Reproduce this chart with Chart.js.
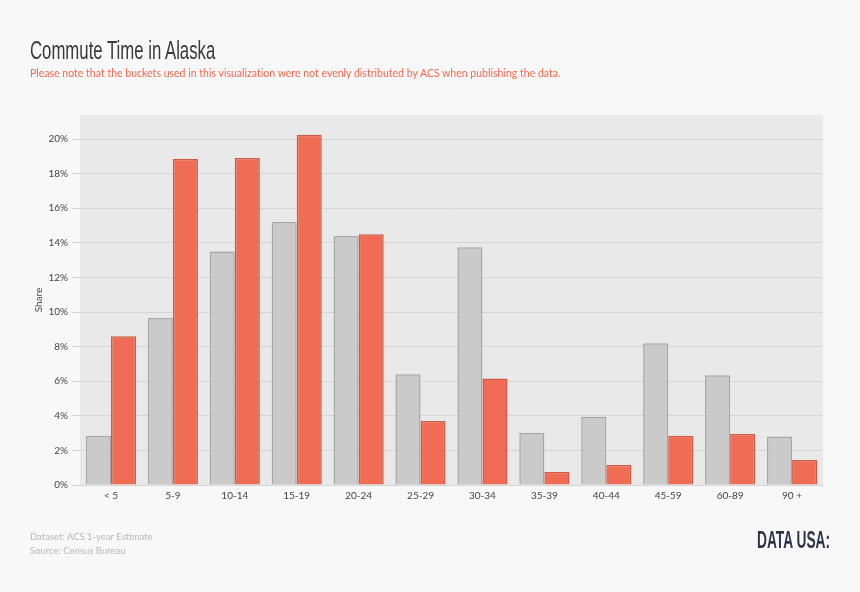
<!DOCTYPE html>
<html>
<head>
<meta charset="utf-8">
<script src="https://cdn.jsdelivr.net/npm/chart.js@4"></script>
<style>
  html, body { margin: 0; padding: 0; background: #f8f8f8; }
  body { width: 860px; height: 592px; position: relative; overflow: hidden; font-family: Lato, sans-serif; }
  canvas { position: absolute; left: 0; top: 0; }
  .txt { position: absolute; white-space: nowrap; transform-origin: left top; }
  #title { left: 30px; top: 36px; font: 25px/28px "Liberation Sans", sans-serif; color: #3a3a3c; transform: scaleX(0.67); }
  #note { left: 30px; top: 66px; font-size: 10.5px; line-height: 14px; color: #f4694f; letter-spacing: 0.01px; }
  #dataset { left: 30px; top: 530px; font-size: 9.5px; line-height: 14px; color: #b8b8b8; }
  #source { left: 30px; top: 544px; font-size: 9.5px; line-height: 14px; color: #b8b8b8; }
  #logo { left: 757px; top: 526px; font: bold 23.5px/28px "Liberation Sans", sans-serif; color: #2f3649; transform: scaleX(0.585); }
</style>
</head>
<body>
<canvas id="commuteChart" width="860" height="592"></canvas>
<div class="txt" id="title">Commute Time in Alaska</div>
<div class="txt" id="note">Please note that the buckets used in this visualization were not evenly distributed by ACS when publishing the data.</div>
<div class="txt" id="dataset">Dataset: ACS 1-year Estimate</div>
<div class="txt" id="source">Source: Census Bureau</div>
<div class="txt" id="logo">DATA USA:</div>
<script>
// Commute time buckets (minutes) and share of commuters
const buckets = ['< 5', '5-9', '10-14', '15-19', '20-24', '25-29', '30-34', '35-39', '40-44', '45-59', '60-89', '90 +'];
const greyShare = [2.85, 9.65, 13.5, 15.2, 14.4, 6.4, 13.75, 3.0, 3.95, 8.2, 6.35, 2.8];
const redShare = [8.6, 18.85, 18.9, 20.25, 14.5, 3.7, 6.15, 0.75, 1.15, 2.85, 2.95, 1.45];
const yTicks = [0, 2, 4, 6, 8, 10, 12, 14, 16, 18, 20];

// grey panel behind the bars
const plotBg = {
  id: 'plotBg',
  beforeDraw(chart) {
    const a = chart.chartArea;
    chart.ctx.fillStyle = '#e9e9e9';
    chart.ctx.fillRect(a.left, a.top, a.right - a.left, a.bottom - a.top);
  }
};

new Chart(document.getElementById('commuteChart'), {
  type: 'bar',
  data: {
    labels: buckets,
    datasets: [
      {
        label: 'Alaska commuters A',
        data: greyShare,
        backgroundColor: 'rgba(198,198,200,0.9)',
        borderColor: '#a6a6a8',
        borderWidth: 1.5
      },
      {
        label: 'Alaska commuters B',
        data: redShare,
        backgroundColor: 'rgba(241,101,76,0.95)',
        borderColor: '#cf5a46',
        borderWidth: 1.5
      }
    ]
  },
  options: {
    responsive: false,
    animation: false,
    devicePixelRatio: 1,
    layout: { padding: { top: 115, right: 37, left: 0, bottom: 0 } },
    plugins: { legend: { display: false }, tooltip: { enabled: false } },
    datasets: { bar: { categoryPercentage: 0.81, barPercentage: 1 } },
    scales: {
      x: {
        grid: { display: false, tickLength: 0 },
        border: { display: false },
        afterFit: (s) => { s.height = 107; },
        ticks: { color: '#444', font: { family: 'Lato', size: 10 }, padding: 5, maxRotation: 0, autoSkip: false }
      },
      y: {
        min: 0,
        max: 21.39,
        afterBuildTicks: (s) => { s.ticks = yTicks.map((v) => ({ value: v })); },
        afterFit: (s) => { s.width = 80; },
        grid: { color: '#d4d4d4', lineWidth: 1, tickLength: 8 },
        border: { display: false },
        ticks: { color: '#444', font: { family: 'Lato', size: 10 }, padding: 4, callback: (v) => v + '%' },
        title: { display: true, text: 'Share', color: '#444', font: { family: 'Lato', size: 10 }, padding: { top: 33, bottom: 0 } }
      }
    }
  },
  plugins: [plotBg]
});
</script>
</body>
</html>
